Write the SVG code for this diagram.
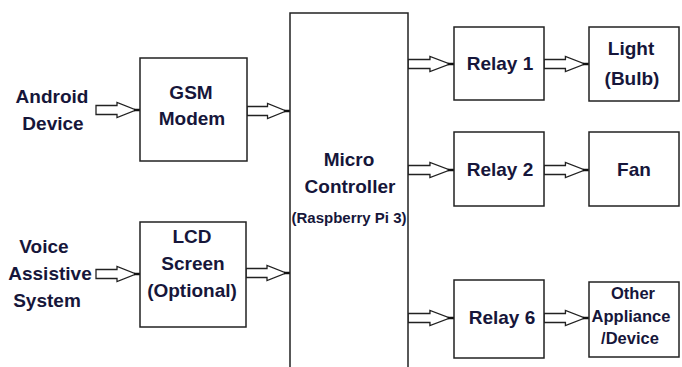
<svg xmlns="http://www.w3.org/2000/svg" width="682" height="367" viewBox="0 0 682 367">
<style>
.box{fill:#fff;stroke:#222;stroke-width:1.5}
.t{font-family:"Liberation Sans",Arial,sans-serif;font-weight:bold;font-size:19px;fill:#16163a;text-anchor:middle}
.s{font-size:15px}
.m{font-size:16.5px}
.arr{fill:#fff;stroke:#222;stroke-width:1.3;stroke-linejoin:miter}
.tip{stroke:#111;stroke-width:2.5}
</style>
<defs>
<g id="a">
<path class="arr" d="M0,-4.5 H21 V-7.5 L40,0 L21,7.5 V4.5 H0 Z"/>
<line class="tip" x1="38" y1="0" x2="44" y2="0"/>
</g>
</defs>
<rect width="682" height="367" fill="#fff"/>
<g id="connectors">
<use href="#a" transform="translate(96,110)"/>
<use href="#a" transform="translate(247,111) scale(0.977,1)"/>
<use href="#a" transform="translate(96,274)"/>
<use href="#a" transform="translate(246,273)"/>
<use href="#a" transform="translate(408,64) scale(1.045,1)"/>
<use href="#a" transform="translate(544,64) scale(1.02,1)"/>
<use href="#a" transform="translate(408,170) scale(1.045,1)"/>
<use href="#a" transform="translate(544,170) scale(1.02,1)"/>
<use href="#a" transform="translate(408,318) scale(1.045,1)"/>
<use href="#a" transform="translate(544,318) scale(1.02,1)"/>
</g>
<g id="android">
<text class="t" x="52" y="103">Android</text>
<text class="t" x="53" y="130">Device</text>
</g>
<g id="voice">
<text class="t" x="44" y="253">Voice</text>
<text class="t" x="50" y="280">Assistive</text>
<text class="t" x="47" y="307">System</text>
</g>
<g id="gsm">
<rect class="box" x="140" y="58" width="107" height="103"/>
<text class="t" x="191" y="99">GSM</text>
<text class="t" x="192" y="125">Modem</text>
</g>
<g id="lcd">
<rect class="box" x="140" y="222" width="106" height="105"/>
<text class="t" x="192" y="243">LCD</text>
<text class="t" x="193" y="270">Screen</text>
<text class="t" x="192" y="297">(Optional)</text>
</g>
<g id="mc">
<rect class="box" x="290" y="13" width="118" height="370"/>
<text class="t" x="349" y="166">Micro</text>
<text class="t" x="350" y="193">Controller</text>
<text class="t s" x="349" y="223">(Raspberry Pi 3)</text>
</g>
<g id="relay1">
<rect class="box" x="454" y="27" width="90" height="73"/>
<text class="t" x="500" y="70">Relay 1</text>
</g>
<g id="light">
<rect class="box" x="589" y="27" width="90" height="74"/>
<text class="t" x="631" y="55">Light</text>
<text class="t" x="632" y="85">(Bulb)</text>
</g>
<g id="relay2">
<rect class="box" x="454" y="132" width="90" height="74"/>
<text class="t" x="500" y="176">Relay 2</text>
</g>
<g id="fan">
<rect class="box" x="589" y="132" width="90" height="74"/>
<text class="t" x="634" y="176">Fan</text>
</g>
<g id="relay6">
<rect class="box" x="454" y="280" width="90" height="78"/>
<text class="t" x="502" y="324">Relay 6</text>
</g>
<g id="other">
<rect class="box" x="589" y="282" width="90" height="75"/>
<text class="t m" x="633" y="299">Other</text>
<text class="t m" x="631" y="322">Appliance</text>
<text class="t m" x="630" y="344">/Device</text>
</g>
</svg>
